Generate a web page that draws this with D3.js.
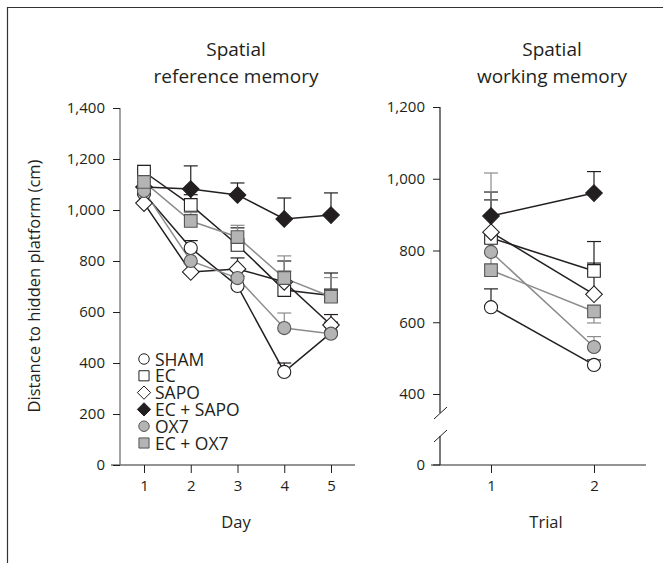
<!DOCTYPE html>
<html><head><meta charset="utf-8">
<script src="https://cdn.jsdelivr.net/npm/d3@7"></script>
<style>body{margin:0;background:#fff}svg{display:block}text{font-family:"Open Sans",sans-serif;fill:#231f20}</style>
</head><body>
<script>
const days = [1, 2, 3, 4, 5];
const trials = [1, 2];
const groups = ["SHAM", "EC", "SAPO", "EC + SAPO", "OX7", "EC + OX7"];
// reference memory (cm)
const refSHAM = [1065, 851, 702, 365, 518];
const refEC = [1150, 1020, 863, 686, 665];
const refSAPO = [1027, 757, 769, 718, 549];
const refECSAPO = [1090, 1082, 1059, 965, 980];
const refOX7 = [1075, 800, 733, 537, 515];
const refECOX7 = [1110, 957, 894, 733, 660];
// upper error bar ends
const refErrSHAM = [1110, 880, 740, 400, 560];
const refErrEC = [1175, 1060, 930, 760, 753];
const refErrSAPO = [1060, 790, 812, 800, 590];
const refErrECSAPO = [1160, 1173, 1106, 1047, 1067];
const refErrOX7 = [1100, 840, 760, 596, 540];
const refErrECOX7 = [1175, 990, 940, 820, 735];
// working memory (cm)
const wrkSHAM = [642, 481];
const wrkEC = [835, 743];
const wrkSAPO = [851, 678];
const wrkECSAPO = [896, 960];
const wrkOX7 = [796, 531];
const wrkECOX7 = [745, 630];
const wrkErrSHAM = [693, 495];
const wrkErrEC = [900, 825];
const wrkErrSAPO = [941, 765];
const wrkErrECSAPO = [963, 1020];
const wrkErrOX7 = [1016, 560];
const wrkErrECOX7 = [830, 598];
const refTicks = [0, 200, 400, 600, 800, 1000, 1200, 1400];
const wrkTicks = [400, 600, 800, 1000, 1200];

const BLACK = "#231f20", GRAY = "#8c8c8c", FILLG = "#b4b4b4", AX = "#707070";
const series = [
  {name: groups[0], shape: "circle", fill: "#fff", line: BLACK, ref: refSHAM, refE: refErrSHAM, wrk: wrkSHAM, wrkE: wrkErrSHAM},
  {name: groups[1], shape: "square", fill: "#fff", line: BLACK, ref: refEC, refE: refErrEC, wrk: wrkEC, wrkE: wrkErrEC},
  {name: groups[2], shape: "diamond", fill: "#fff", line: BLACK, ref: refSAPO, refE: refErrSAPO, wrk: wrkSAPO, wrkE: wrkErrSAPO},
  {name: groups[3], shape: "diamond", fill: BLACK, line: BLACK, ref: refECSAPO, refE: refErrECSAPO, wrk: wrkECSAPO, wrkE: wrkErrECSAPO},
  {name: groups[4], shape: "circle", fill: FILLG, line: GRAY, ref: refOX7, refE: refErrOX7, wrk: wrkOX7, wrkE: wrkErrOX7},
  {name: groups[5], shape: "square", fill: FILLG, line: GRAY, ref: refECOX7, refE: refErrECOX7, wrk: wrkECOX7, wrkE: wrkErrECOX7}
];

const svg = d3.select("body").append("svg").attr("width", 663).attr("height", 563);
// frame
svg.append("path").attr("d", "M7.5,563V7.5H663").attr("fill", "none").attr("stroke", "#333").attr("stroke-width", 1.2);

function sym(shape, big) {
  const s = big ? 1 : 0.8;
  if (shape === "circle") return d3.symbol(d3.symbolCircle, 135 * s * s)();
  if (shape === "square") return d3.symbol(d3.symbolSquare, 160 * s * s)();
  const r = 8.3 * s;
  return `M0,${-r}L${r},0L0,${r}L${-r},0Z`;
}
function markerStroke(d) { return d.fill === FILLG ? "#555" : BLACK; }

function styleAxis(g) {
  g.select(".domain").remove();
  g.selectAll("line").attr("stroke", BLACK);
  g.selectAll("text").attr("font-size", 15).attr("font-family", "Open Sans").attr("fill", BLACK);
}

// ---------- Left panel ----------
const xL = d3.scalePoint().domain(days).range([144, 331]);
const yL = d3.scaleLinear().domain([0, 1400]).range([465, 108]);
const gL = svg.append("g");
gL.append("line").attr("x1", 111).attr("x2", 355).attr("y1", 465).attr("y2", 465).attr("stroke", AX).attr("stroke-width", 1.3);
gL.append("line").attr("x1", 120).attr("x2", 120).attr("y1", 108).attr("y2", 465).attr("stroke", AX).attr("stroke-width", 1.3);
const ayL = gL.append("g").attr("transform", "translate(120,0)")
  .call(d3.axisLeft(yL).tickValues(refTicks).tickSize(7).tickPadding(8).tickFormat(d3.format(",")));
styleAxis(ayL);
const axL = gL.append("g").attr("transform", "translate(0,465)").call(d3.axisBottom(xL).tickSize(8).tickPadding(7));
styleAxis(axL);

function drawPanel(g, xs, ys, cats, key, ekey) {
  series.forEach(s => {
    cats.forEach((c, i) => {
      const x = xs(c);
      g.append("line").attr("x1", x).attr("x2", x).attr("y1", ys(s[key][i])).attr("y2", ys(s[ekey][i]))
        .attr("stroke", s.line).attr("stroke-width", 1.2);
      g.append("line").attr("x1", x - 7).attr("x2", x + 7).attr("y1", ys(s[ekey][i])).attr("y2", ys(s[ekey][i]))
        .attr("stroke", s.line).attr("stroke-width", 1.2);
    });
  });
  series.forEach(s => {
    g.append("path").datum(s[key]).attr("fill", "none").attr("stroke", s.line).attr("stroke-width", 1.5)
      .attr("d", d3.line().x((d, i) => xs(cats[i])).y(d => ys(d)));
  });
  series.forEach(s => {
    s[key].forEach((v, i) => {
      g.append("path").attr("d", sym(s.shape, true))
        .attr("transform", `translate(${xs(cats[i])},${ys(v)})`)
        .attr("fill", s.fill).attr("stroke", markerStroke(s)).attr("stroke-width", 1.1);
    });
  });
}
drawPanel(gL, xL, yL, days, "ref", "refE");

// legend
const leg = svg.append("g");
series.forEach((s, i) => {
  const y = 359 + i * 16.8;
  leg.append("path").attr("d", sym(s.shape, false)).attr("transform", `translate(144,${y})`)
    .attr("fill", s.fill).attr("stroke", markerStroke(s)).attr("stroke-width", 1);
  leg.append("text").attr("x", 155).attr("y", y + 6.5).attr("font-size", 17.5).text(s.name);
});

// ---------- Right panel ----------
const xR = d3.scalePoint().domain(trials).range([491, 594]);
const yR = d3.scaleLinear().domain([400, 1200]).range([394, 107]);
const gR = svg.append("g");
gR.append("line").attr("x1", 431).attr("x2", 646).attr("y1", 465).attr("y2", 465).attr("stroke", AX).attr("stroke-width", 1.3);
gR.append("line").attr("x1", 440).attr("x2", 440).attr("y1", 107).attr("y2", 413).attr("stroke", BLACK).attr("stroke-width", 1.2);
gR.append("line").attr("x1", 440).attr("x2", 440).attr("y1", 436).attr("y2", 465).attr("stroke", BLACK).attr("stroke-width", 1.2);
gR.append("line").attr("x1", 434).attr("x2", 447).attr("y1", 419).attr("y2", 407).attr("stroke", BLACK).attr("stroke-width", 1);
gR.append("line").attr("x1", 434).attr("x2", 447).attr("y1", 442).attr("y2", 430).attr("stroke", BLACK).attr("stroke-width", 1);
const ayR = gR.append("g").attr("transform", "translate(440,0)")
  .call(d3.axisLeft(yR).tickValues(wrkTicks).tickSize(7).tickPadding(8).tickFormat(d3.format(",")));
styleAxis(ayR);
gR.append("line").attr("x1", 433).attr("x2", 440).attr("y1", 465).attr("y2", 465).attr("stroke", BLACK);
gR.append("text").attr("x", 425).attr("y", 465).attr("dy", "0.32em").attr("text-anchor", "end").attr("font-size", 15).text("0");
const axR = gR.append("g").attr("transform", "translate(0,465)").call(d3.axisBottom(xR).tickSize(8).tickPadding(7));
styleAxis(axR);
drawPanel(gR, xR, yR, trials, "wrk", "wrkE");

// titles
const T = svg.append("g").attr("text-anchor", "middle").attr("font-size", 19);
T.append("text").attr("x", 236).attr("y", 56).text("Spatial");
T.append("text").attr("x", 236).attr("y", 83).text("reference memory");
T.append("text").attr("x", 552).attr("y", 56).text("Spatial");
T.append("text").attr("x", 552).attr("y", 83).text("working memory");
svg.append("text").attr("x", 236).attr("y", 528).attr("text-anchor", "middle").attr("font-size", 16.5).text("Day");
svg.append("text").attr("x", 546).attr("y", 528).attr("text-anchor", "middle").attr("font-size", 16.5).text("Trial");
svg.append("text").attr("transform", "translate(40,286) rotate(-90)").attr("text-anchor", "middle").attr("font-size", 16.5)
  .text("Distance to hidden platform (cm)");
</script>
</body></html>
